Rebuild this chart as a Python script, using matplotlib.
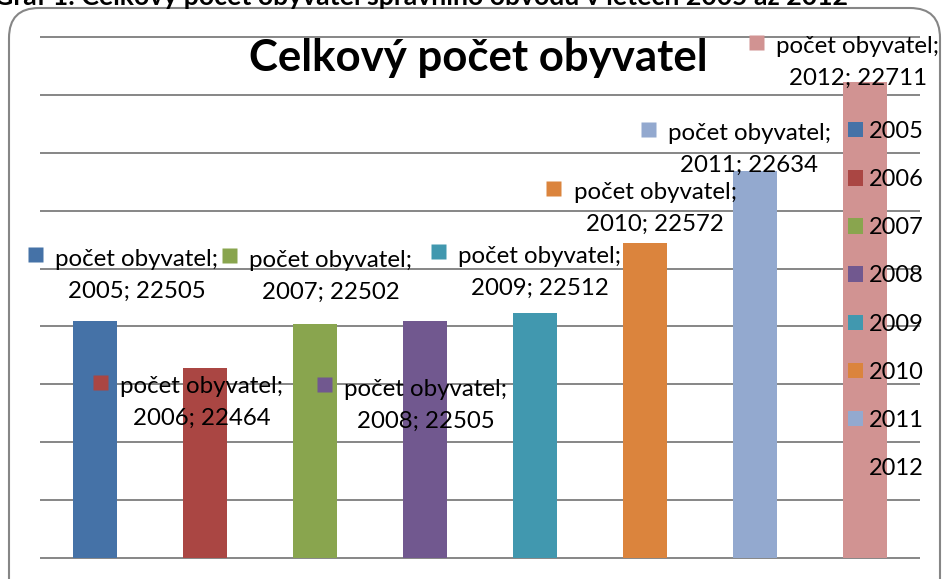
import matplotlib
matplotlib.use('Agg')
import matplotlib.pyplot as plt
from matplotlib.patches import FancyBboxPatch, Patch
from matplotlib.transforms import offset_copy, IdentityTransform
import numpy as np

# ---- data ----
years = ['2005', '2006', '2007', '2008', '2009', '2010', '2011', '2012']
population = [22505, 22464, 22502, 22505, 22512, 22572, 22634, 22711]
series_name = 'počet obyvatel'
title = 'Celkový počet obyvatel'
caption = 'Graf 1: Celkový počet obyvatel správního obvodu v letech 2005 až 2012'
y_min, y_max, y_step = 22300, 22750, 50

# ---- style ----
colors = ['#4572A7', '#AA4643', '#89A54E', '#71588F',
          '#4198AF', '#DB843D', '#93A9CF', '#D19392']
# data-label key-square position relative to bar top centre, pixels (x right, y up)
label_dx = [-60.5, -105, -86.5, -101, -97.5, -92, -107.5, -109]
label_dy = [66.5, -13.5, 69, -63.5, 61.5, 55.5, 42.5, 40.5]

W, H, DPI = 944, 579, 100
plt.rcParams['font.family'] = ['Lato', 'DejaVu Sans']
fig = plt.figure(figsize=(W / DPI, H / DPI), dpi=DPI)
ax = fig.add_axes([40 / W, (H - 558) / H, 880 / W, 521 / H])

x = np.arange(len(years))
ax.bar(x, population, width=0.4, color=colors, zorder=2)
ax.set_xlim(-0.5, len(years) - 0.5)
ax.set_ylim(y_min, y_max)
ticks = np.arange(y_min, y_max + 1, y_step)
ax.hlines(ticks, -0.5, len(years) - 0.5, color='#868686', lw=1.4, zorder=1, clip_on=False)
ax.set_xticks([])
ax.set_yticks([])
for s in ax.spines.values():
    s.set_visible(False)
ax.patch.set_visible(False)

LABEL_FS = 17.3
for i, (yr, v) in enumerate(zip(years, population)):
    tr = offset_copy(ax.transData, fig=fig, x=label_dx[i], y=label_dy[i], units='dots')
    ax.plot([x[i]], [v], marker='s', ms=15 * 72 / DPI, color=colors[i], mec='none',
            transform=tr, clip_on=False, zorder=4)
    tr2 = offset_copy(ax.transData, fig=fig, x=label_dx[i] + 20.5, y=label_dy[i] - 21,
                      units='dots')
    ax.text(x[i], v, f'{series_name};\n{yr}; {v}', transform=tr2, ha='left', va='center',
            ma='center', fontsize=LABEL_FS, linespacing=1.65, zorder=5, clip_on=False)

handles = [Patch(facecolor=c, edgecolor='none') for c in colors]
fig.legend(handles, years, loc='upper left', bbox_to_anchor=(848 / W, 1 - (130 - 9) / H),
           frameon=False, fontsize=17, handlelength=0.635, handleheight=0.635,
           handletextpad=0.25, labelspacing=1.15, borderpad=0, borderaxespad=0)

fig.text(478 / W, 1 - 58 / H, title, ha='center', va='center', fontsize=31.5, fontweight='bold')
fig.text(-6 / W, 1 - 5 / H, caption, ha='left', va='baseline', fontsize=19.2, fontweight='bold')

frame = FancyBboxPatch((9, -30), 931, 601, boxstyle='round,pad=0,rounding_size=30',
                       transform=IdentityTransform(), fill=False, ec='#868686', lw=1.5)
fig.add_artist(frame)

fig.savefig('out.png', dpi=DPI)
